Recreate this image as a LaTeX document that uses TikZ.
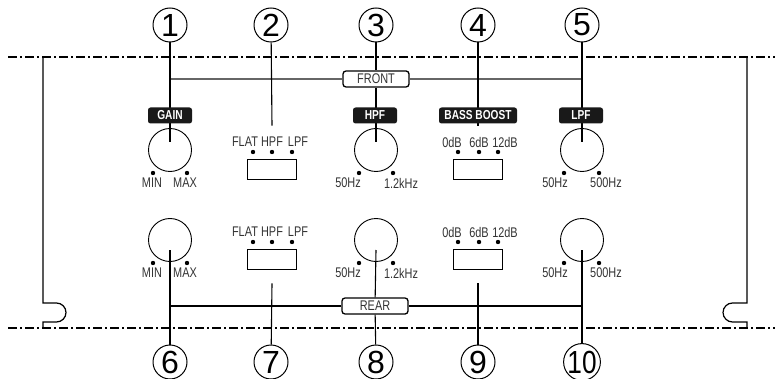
\documentclass[tikz,border=0pt]{standalone}
\usepackage{fontspec}
\usepackage{graphicx}
\setmainfont{Liberation Sans}
\newfontfamily\narrowsf[FakeStretch=0.78]{Liberation Sans}

\tikzset{
  x=1pt,y=1pt,
  dashdot/.style={line width=1.4pt,dash pattern=on 9pt off 3pt on 2pt off 3pt},
  frame/.style={line width=1.2pt},
  lead/.style={line width=1.1pt},
  numcirc/.style={circle,draw,line width=1pt,minimum size=34pt,inner sep=0pt,
    font=\fontsize{32}{32}\selectfont},
  knob/.style={circle,draw,line width=0.9pt,minimum size=43pt,inner sep=0pt},
  swbox/.style={draw,line width=0.9pt,minimum width=49pt,minimum height=20pt,inner sep=0pt},
  small/.style={inner sep=0pt,text=black!80,font=\narrowsf\fontsize{14}{14}\selectfont},
  tag/.style={fill=black!90,rounded corners=2.5pt,text=white,minimum height=16pt,
    inner sep=0pt,font=\narrowsf\bfseries\fontsize{13}{13}\selectfont},
  chan/.style={draw,line width=1.3pt,fill=white,rounded corners=3pt,minimum width=66pt,
    minimum height=16pt,inner sep=0pt,text=black!80,font=\narrowsf\fontsize{14}{14}\selectfont}
}

\begin{document}
\begin{tikzpicture}
\useasboundingbox (0,0) rectangle (775,-379);

% panel edges
\draw[dashdot] (8,-57) -- (775,-57);
\draw[dashdot] (8,-328) -- (775,-328);
\draw[frame] (43,-57) -- (43,-303) -- (56.5,-303)
  arc[start angle=90,end angle=-90,radius=9.5] -- (43,-322) -- (43,-328);
\draw[frame] (747,-57) -- (747,-303) -- (732.5,-303)
  arc[start angle=90,end angle=270,radius=9.5] -- (747,-322) -- (747,-328);

% controls, front row (f) and rear row (r)
\foreach \row/\dy in {f/0,r/90} {
  \node[knob] (gain\row) at (170,-150-\dy) {};
  \node[knob] (hpf\row) at (376,-150-\dy) {};
  \node[knob] (lpf\row) at (582,-150-\dy) {};
  \node[swbox] (xover\row) at (272,-169-\dy) {};
  \node[swbox] (boost\row) at (478,-169-\dy) {};
  \foreach \x in {153,187,359,393,564,599}
    \fill (\x,-173-\dy) circle (2.2);
  \foreach \x in {253,272,292,458,479,498}
    \fill (\x,-152-\dy) circle (2.2);
  \node[small] at (152,-183-\dy) {MIN};
  \node[small] at (185,-183-\dy) {MAX};
  \node[small] at (348,-183-\dy) {50Hz};
  \node[small] at (401,-183-\dy) {1.2kHz};
  \node[small] at (555,-183-\dy) {50Hz};
  \node[small] at (606,-183-\dy) {500Hz};
  \node[small] at (245,-142-\dy) {FLAT};
  \node[small] at (272,-142-\dy) {HPF};
  \node[small] at (298,-142-\dy) {LPF};
  \node[small] at (452,-142-\dy) {0dB};
  \node[small] at (479,-142-\dy) {6dB};
  \node[small] at (505,-142-\dy) {12dB};
}

% channel bars
\node[chan] (front) at (376,-79) {FRONT};
\node[chan] (rear) at (375,-306) {REAR};
\coordinate (fl) at (170,-79);
\coordinate (fr) at (582,-79);
\coordinate (rl) at (170,-306);
\coordinate (rr) at (582,-306);
\draw[lead,black!60] (fl) -- (front.west);
\draw[lead,black!60] (front.east) -- (fr);
\draw[lead] (rl) -- (rear.west);
\draw[lead] (rear.east) -- (rr);

% callouts
\node[numcirc] (n1) at (170,-25) {1};
\node[numcirc] (n2) at (271,-25) {2};
\node[numcirc] (n3) at (376,-25) {3};
\node[numcirc] (n4) at (478,-25) {4};
\node[numcirc] (n5) at (582,-25) {5};
\node[numcirc] (n6) at (170,-362) {6};
\node[numcirc] (n7) at (271,-362) {7};
\node[numcirc] (n8) at (376,-362) {8};
\node[numcirc] (n9) at (478,-362) {9};
\node[numcirc] (n10) at (582,-362) {\scalebox{0.82}[1]{10}};

\draw[lead] (n1) -- ([yshift=8]gainf.center);
\draw[lead] (n2) -- ([yshift=33]xoverf.north);
\draw[lead] (n3) -- (front);
\draw[lead] (front) -- ([yshift=8]hpff.center);
\draw[lead] (n4) -- ([yshift=33]boostf.north);
\draw[lead] (n5) -- ([yshift=8]lpff.center);
\draw[lead] (n6) -- ([yshift=-10]gainr.center);
\draw[lead] (n7) -- ([yshift=-14]xoverr.south);
\draw[lead] (n8) -- (rear);
\draw[lead] (rear) -- ([yshift=-10]hpfr.center);
\draw[lead] (n9) -- ([yshift=-14]boostr.south);
\draw[lead] (n10) -- ([yshift=-10]lpfr.center);

% function tags
\node[tag,minimum width=44pt] (gaintag) at (170,-115.5) {GAIN};
\node[tag,minimum width=44pt] (hpftag) at (375,-115.5) {HPF};
\node[tag,minimum width=78pt] (boosttag) at (478,-115.5) {BASS BOOST};
\node[tag,minimum width=44pt] (lpftag) at (581,-115.5) {LPF};
\end{tikzpicture}
\end{document}
